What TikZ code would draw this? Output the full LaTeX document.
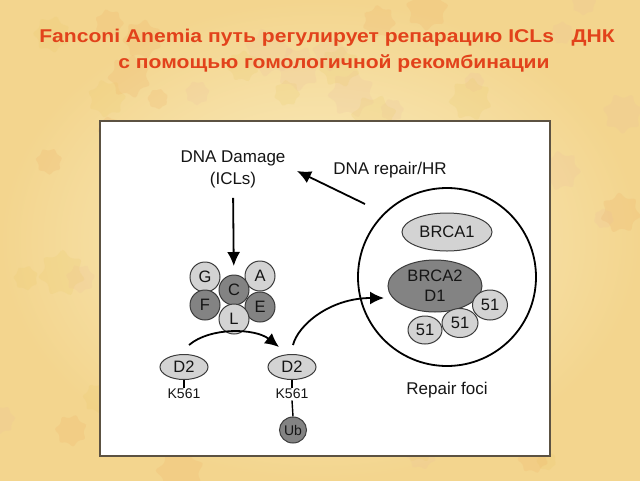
\documentclass[tikz,border=0pt]{standalone}
\usepackage{fontspec}
\setmainfont{Liberation Sans}
\usetikzlibrary{arrows.meta,shapes.geometric}
\definecolor{titlered}{HTML}{E2421B}
\definecolor{lightg}{HTML}{D3D3D3}
\definecolor{darkg}{HTML}{838383}
\definecolor{edgeg}{HTML}{3C3C3C}
\definecolor{ink}{HTML}{151515}
\definecolor{panelborder}{HTML}{5C5242}
\definecolor{bgin}{HTML}{FBEFC6}
\definecolor{bgout}{HTML}{F3D58E}
\definecolor{leafa}{HTML}{EDA55A}
\definecolor{leafb}{HTML}{E9B8A0}
\definecolor{leafc}{HTML}{E8C860}
\tikzset{
  lbl/.style={text=ink, inner sep=0pt, font=\fontsize{17}{22}\selectfont, align=center},
  small/.style={text=ink, inner sep=1pt, font=\fontsize{14}{16}\selectfont},
  subunit/.style={circle, draw=edgeg, line width=1pt, minimum size=30pt, inner sep=0pt, text=ink, font=\fontsize{16.5}{18}\selectfont},
  lightu/.style={subunit, fill=lightg},
  darku/.style={subunit, fill=darkg},
  blob/.style={ellipse, draw=edgeg, line width=1pt, inner sep=0pt, text=ink, font=\fontsize{16.5}{19}\selectfont, align=center},
  arr/.style={draw=black, line width=1.8pt, -{Latex[length=14pt,width=13pt]}},
  stem/.style={draw=black, line width=1.4pt},
  titletext/.style={text=titlered, font=\bfseries\fontsize{18.5}{22}\selectfont, inner sep=0pt, anchor=base},
  leaf/.style={star, star points=7, star point ratio=1.45, rounded corners=3pt, inner sep=0pt, fill opacity=0.16, draw=none}
}
\begin{document}
\begin{tikzpicture}[x=1pt,y=-1pt]
\useasboundingbox (0,0) rectangle (640,480);
\shade[inner color=bgin, outer color=bgout] (0,0) rectangle (640,480);

% faint autumn leaves in the background
\pgfmathsetseed{11}
\foreach \i in {1,...,70}{
  \pgfmathsetmacro\xx{640*rnd}
  \pgfmathsetmacro\yy{480*rnd}
  \pgfmathsetmacro\ss{22+30*rnd}
  \pgfmathsetmacro\rr{360*rnd}
  \pgfmathtruncatemacro\cc{mod(\i,3)}
  \ifnum\cc=0 \def\lc{leafa}\else\ifnum\cc=1 \def\lc{leafb}\else\def\lc{leafc}\fi\fi
  \node[leaf, fill=\lc, minimum size=\ss pt, rotate=\rr] (leaf\i) at (\xx,\yy) {};
}

% title
\node[titletext] (t1) at (327,42) {\scalebox{1.14}[1]{Fanconi Anemia путь регулирует репарацию ICLs\ \ \ ДНК}};
\node[titletext] (t2) at (334,68) {\scalebox{1.14}[1]{с помощью гомологичной рекомбинации}};

% panel
\node[draw=panelborder, fill=white, line width=1.3pt, minimum width=450pt, minimum height=335pt, inner sep=0pt] (panel) at (325,288.5) {};

% texts
\node[lbl] (dmg) at (233,169) {DNA Damage\\(ICLs)};
\node[lbl] (hr) at (390,170) {DNA repair/HR};

% FA core complex
\node[lightu] (G) at (205,277) {G};
\node[lightu] (A) at (260,276) {A};
\node[darku] (C) at (234,290) {C};
\node[darku] (F) at (205,305) {F};
\node[darku] (E) at (260,307) {E};
\node[lightu] (L) at (234,319) {L};

\draw[arr, shorten <=10pt, shorten >=24pt] (dmg.south) -- (C.center);

% D2 left
\node[blob, fill=lightg, minimum width=48pt, minimum height=25pt] (d2a) at (184,367) {D2};
\node[small, anchor=north] (k1) at (184,388) {K561};
\draw[stem] (d2a.south) -- (k1.north);

% D2 right
\node[blob, fill=lightg, minimum width=48pt, minimum height=25pt] (d2b) at (292,367) {D2};
\node[small, anchor=north] (k2) at (292,388) {K561};
\draw[stem] (d2b.south) -- (k2.north);
\node[blob, fill=darkg, minimum width=27pt, minimum height=26pt, font=\fontsize{14}{15}\selectfont] (ub) at (293,430) {Ub};
\draw[stem] (k2.south) -- (ub.north);

% D2 -> D2 arrow
\coordinate (mono) at (189,345);
\coordinate (monoend) at (279,347);
\draw[arr] (mono) .. controls (210,327) and (255,328) .. (monoend);

% foci
\node[circle, draw=black, line width=1.8pt, minimum size=178pt, inner sep=0pt] (foci) at (447,277) {};
\node[blob, fill=lightg, minimum width=90pt, minimum height=38pt] (brca1) at (447,232) {BRCA1};
\node[blob, fill=darkg, minimum width=94pt, minimum height=52pt, font=\fontsize{16.5}{20}\selectfont] (brca2) at (435,286) {BRCA2\\D1};
\node[blob, fill=lightg, minimum width=35pt, minimum height=30pt] (r51c) at (490,305) {51};
\node[blob, fill=lightg, minimum width=36pt, minimum height=29pt] (r51b) at (460,323) {51};
\node[blob, fill=lightg, minimum width=34pt, minimum height=28pt] (r51a) at (425,330) {51};
\node[lbl] (focilbl) at (447,390) {Repair foci};

% D2 -> foci arrow
\coordinate (d2start) at (293,345);
\coordinate (fociin) at (384,298);
\draw[arr] (d2start) .. controls (298,325) and (330,298) .. (fociin);

% repair -> damage arrow
\coordinate (hrtail) at (365,204);
\coordinate (hrtip) at (297,171);
\draw[arr] (hrtail) -- (hrtip);
\end{tikzpicture}
\end{document}
